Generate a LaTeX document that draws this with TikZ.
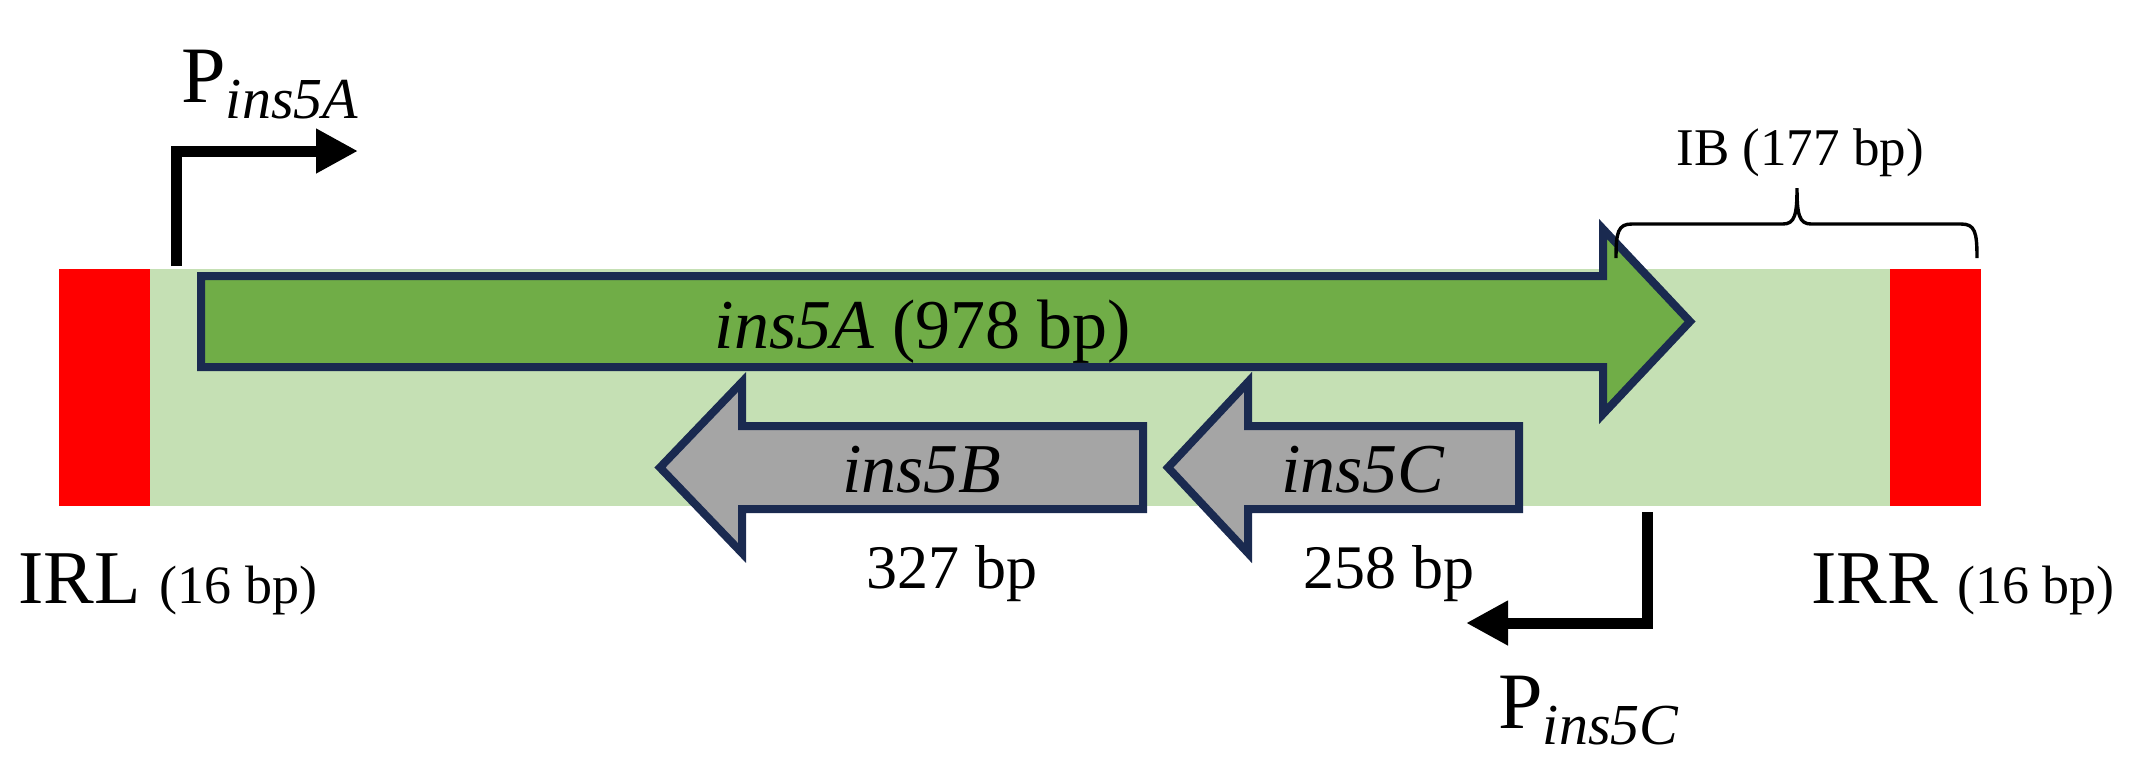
\documentclass[tikz,border=0pt]{standalone}
\usepackage{fontspec}
\setmainfont{Liberation Serif}
\usetikzlibrary{arrows.meta}
\definecolor{barbg}{HTML}{C5E0B4}
\definecolor{geneA}{HTML}{70AD47}
\definecolor{geneG}{HTML}{A5A5A5}
\definecolor{navy}{HTML}{1A2A50}
\definecolor{irred}{HTML}{FF0000}
\tikzset{
  gene/.style={draw=navy, line width=4pt, line join=miter},
  prom/.style={line width=5.5pt, line join=miter, -{Triangle[length=21pt,width=21pt]}},
  lbl/.style={inner sep=0pt, anchor=base west},
  lblc/.style={inner sep=0pt, anchor=base},
}
\newcommand{\fs}[1]{\fontsize{#1}{#1}\selectfont}
\begin{document}
\begin{tikzpicture}[x=0.5pt,y=-0.5pt]
\useasboundingbox (0,0) rectangle (2141,768);
% backbone
\fill[barbg] (150,269) rectangle (1890,506);
\fill[irred] (59,269) rectangle (150,506);
\fill[irred] (1890,269) rectangle (1981,506);
% ins5A
\filldraw[gene, fill=geneA] (201,276) -- (1603,276) -- (1603,229) -- (1690,321.5) -- (1603,414) -- (1603,367) -- (201,367) -- cycle;
% ins5B
\filldraw[gene, fill=geneG] (1143,426) -- (742,426) -- (742,382) -- (660,467.5) -- (742,553) -- (742,509) -- (1143,509) -- cycle;
% ins5C
\filldraw[gene, fill=geneG] (1519,426) -- (1248,426) -- (1248,382) -- (1168,467.5) -- (1248,553) -- (1248,509) -- (1519,509) -- cycle;
% promoters
\coordinate (pAs) at (176.5,266);
\coordinate (pAc) at (176.5,151);
\coordinate (pAe) at (358,151);
\draw[prom] (pAs) -- (pAc) -- (pAe);
\coordinate (pCs) at (1647,512);
\coordinate (pCc) at (1647,623);
\coordinate (pCe) at (1466,623);
\draw[prom] (pCs) -- (pCc) -- (pCe);
% brace
\coordinate (bL) at (1616,258);
\coordinate (bM) at (1797,188);
\coordinate (bR) at (1977,258);
\draw[line width=1.7pt] (bL) .. controls (1616,232) and (1618,224) .. (1632,224) -- (1783,224)
  .. controls (1795,224) and (1797,214) .. (bM)
  .. controls (1797,214) and (1799,224) .. (1811,224) -- (1961,224)
  .. controls (1975,224) and (1977,232) .. (bR);
% labels
\node[lbl] (irl) at (18,603) {\fs{38}IRL \fs{27}(16 bp)};
\node[lbl] (irr) at (1811,603) {\fs{38}IRR \fs{27}(16 bp)};
\node[lblc] (ib) at (1800,165) {\fs{26.5}IB (177 bp)};
\node[lblc] (la) at (923,348) {\fs{35}\textit{ins5A} (978 bp)};
\node[lblc] (lb) at (922,492) {\fs{35}\textit{ins5B}};
\node[lblc] (lc) at (1363,492) {\fs{35}\textit{ins5C}};
\node[lblc] (sb) at (952,588) {\fs{31}327 bp};
\node[lblc] (sc) at (1389,588) {\fs{31}258 bp};
\node[lbl] (pa) at (181,102) {\fs{40}P\raisebox{-8pt}{\fs{29}\itshape ins5A}};
\node[lbl] (pc) at (1498,728) {\fs{40}P\raisebox{-8pt}{\fs{29}\itshape ins5C}};
\end{tikzpicture}
\end{document}
